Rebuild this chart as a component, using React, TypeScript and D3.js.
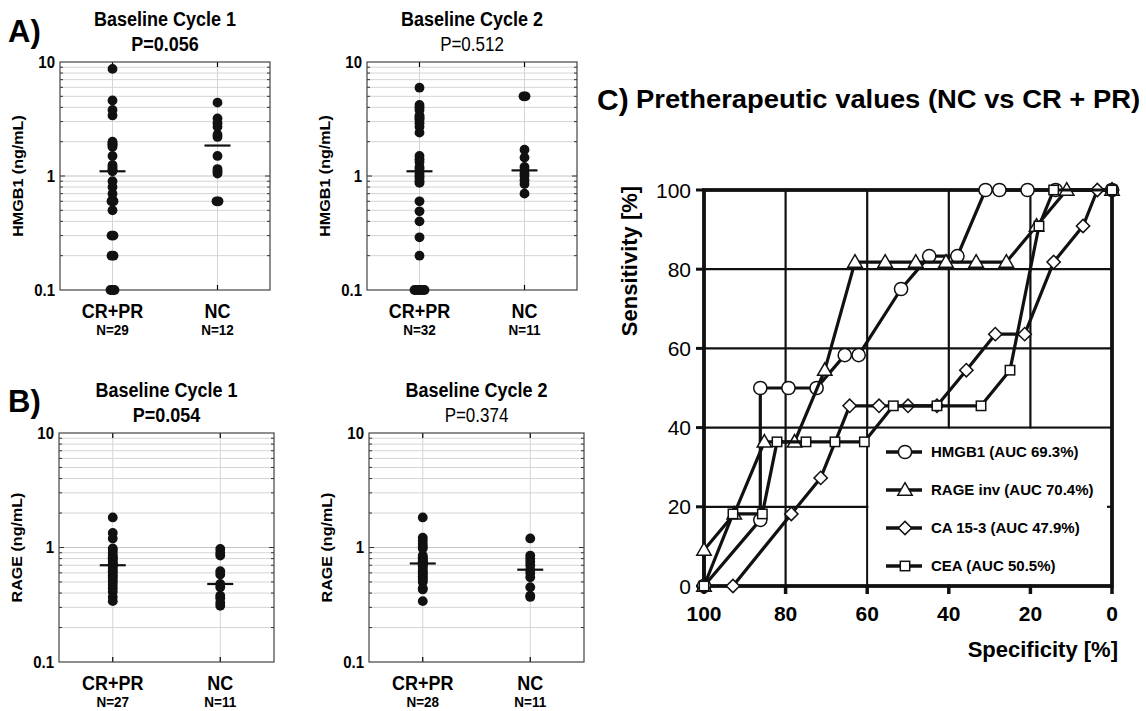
import React from 'react'
import * as d3 from 'd3'

// groups on the x axis of the scatter panels
const groups = ['CR+PR', 'NC']

// HMGB1 (ng/mL), baseline cycle 1 / cycle 2
const hmgbC1Resp = [8.7, 4.6, 3.8, 3.4, 2.0, 1.95, 1.9, 1.85, 1.8, 1.5, 1.25, 1.2, 1.15, 1.12, 1.1, 0.9, 0.8, 0.7, 0.62, 0.6, 0.6, 0.5, 0.3, 0.3, 0.2, 0.2, 0.1, 0.1, 0.1]
const hmgbC1NC = [4.4, 3.2, 2.9, 2.7, 2.3, 2.2, 1.5, 1.15, 1.1, 1.05, 0.6, 0.6]
const hmgbC2Resp = [5.95, 4.2, 4.0, 3.8, 3.4, 3.3, 3.2, 3.1, 2.9, 2.7, 2.4, 1.5, 1.4, 1.33, 1.2, 1.15, 1.05, 1.0, 0.96, 0.9, 0.87, 0.6, 0.49, 0.4, 0.29, 0.2, 0.1, 0.1, 0.1, 0.1, 0.1, 0.1]
const hmgbC2NC = [5.0, 5.0, 1.7, 1.45, 1.2, 1.12, 1.05, 1.0, 0.92, 0.85, 0.7]

// RAGE (ng/mL), baseline cycle 1 / cycle 2
const rageC1Resp = [1.83, 1.34, 1.2, 0.98, 0.95, 0.9, 0.85, 0.82, 0.8, 0.78, 0.75, 0.72, 0.71, 0.7, 0.68, 0.65, 0.62, 0.6, 0.57, 0.55, 0.52, 0.5, 0.47, 0.44, 0.41, 0.37, 0.34]
const rageC1NC = [0.97, 0.9, 0.85, 0.62, 0.58, 0.48, 0.45, 0.38, 0.36, 0.33, 0.31]
const rageC2Resp = [1.83, 1.22, 1.15, 1.08, 1.02, 0.98, 0.85, 0.82, 0.8, 0.78, 0.76, 0.75, 0.74, 0.73, 0.72, 0.7, 0.68, 0.65, 0.62, 0.6, 0.58, 0.56, 0.54, 0.52, 0.5, 0.44, 0.43, 0.34]
const rageC2NC = [1.2, 0.85, 0.8, 0.75, 0.7, 0.64, 0.6, 0.55, 0.45, 0.38, 0.37]

// ROC curves: [specificity %, sensitivity %]
const rocHmgb = [[100, 0], [86.2, 16.7], [86.2, 50], [79.3, 50], [72.4, 50], [65.5, 58.3], [62.1, 58.3], [51.7, 75], [44.8, 83.3], [37.9, 83.3], [31.0, 100], [27.6, 100], [20.7, 100], [13.8, 100], [0, 100]]
const rocRage = [[100, 0], [100, 9.1], [92.6, 18.2], [85.2, 36.4], [77.8, 36.4], [70.4, 54.5], [63.0, 81.8], [55.6, 81.8], [48.1, 81.8], [40.7, 81.8], [33.3, 81.8], [25.9, 81.8], [18.5, 90.9], [11.1, 100], [0, 100]]
const rocCa153 = [[92.9, 0], [78.6, 18.2], [71.4, 27.3], [64.3, 45.5], [57.1, 45.5], [50, 45.5], [42.9, 45.5], [35.7, 54.5], [28.6, 63.6], [21.4, 63.6], [14.3, 81.8], [7.1, 90.9], [3.6, 100], [0, 100]]
const rocCea = [[100, 0], [92.9, 18.2], [85.7, 18.2], [82.1, 36.4], [75, 36.4], [67.9, 36.4], [60.7, 36.4], [53.6, 45.5], [42.9, 45.5], [32.1, 45.5], [25, 54.5], [17.9, 90.9], [14.3, 100], [0, 100]]

const legendLabels = ['HMGB1 (AUC 69.3%)', 'RAGE inv (AUC 70.4%)', 'CA 15-3 (AUC 47.9%)', 'CEA (AUC 50.5%)']
const rocTicks = [0, 20, 40, 60, 80, 100]

const FONT = '"Liberation Sans", Arial, Helvetica, sans-serif'
// the left figures are a bit taller than wide
const STRETCH = 1.15

// horizontal offsets so that equal values sit side by side
const spread = (vals, step = 2) => {
  const count = d3.rollup(vals, v => v.length, d => d)
  const seen = new Map()
  return vals.map(v => {
    const k = seen.get(v) || 0
    seen.set(v, k + 1)
    return (k - (count.get(v) - 1) / 2) * step
  })
}

const T = ({ x, y, rot = 0, children, ...rest }) =>
  <g transform={`translate(${x},${y}) scale(1,${STRETCH})`}>
    <text transform={rot ? `rotate(${rot})` : undefined} {...rest}>{children}</text>
  </g>

const ScatterPanel = ({ box, title, pText, pBold, yLabel, series, nLabels }) => {
  const [x0, x1, y0, y1] = box
  const y = d3.scaleLog().domain([0.1, 10]).range([y1, y0])
  const x = d3.scalePoint().domain(groups).range([x0, x1]).padding(0.5)
  const minor = []
  ;[0.1, 1].forEach(dec => d3.range(2, 10).forEach(k => minor.push(dec * k)))
  const cx = (x0 + x1) / 2
  const cy = (y0 + y1) / 2

  return <g fontFamily={FONT}>
    {minor.map(v => <line key={'g' + v} x1={x0} x2={x1} y1={y(v)} y2={y(v)} stroke="#d4d4d4" strokeWidth={1} />)}
    <line x1={x0} x2={x1} y1={y(1)} y2={y(1)} stroke="#c4c4c4" strokeWidth={1} />
    {groups.map(g => <line key={'v' + g} x1={x(g)} x2={x(g)} y1={y0} y2={y1} stroke="#d4d4d4" strokeWidth={1} />)}
    {minor.map(v => <g key={'t' + v}>
      <line x1={x0} x2={x0 + 3} y1={y(v)} y2={y(v)} stroke="#333" />
      <line x1={x1 - 3} x2={x1} y1={y(v)} y2={y(v)} stroke="#333" />
    </g>)}
    <line x1={x0} x2={x0 + 5} y1={y(1)} y2={y(1)} stroke="#333" />
    <line x1={x1 - 5} x2={x1} y1={y(1)} y2={y(1)} stroke="#333" />
    {groups.map(g => <g key={'xt' + g}>
      <line x1={x(g)} x2={x(g)} y1={y0} y2={y0 + 5} stroke="#000" strokeWidth={1.2} />
      <line x1={x(g)} x2={x(g)} y1={y1} y2={y1 - 5} stroke="#000" strokeWidth={1.2} />
    </g>)}
    <rect x={x0} y={y0} width={x1 - x0} height={y1 - y0} fill="none" stroke="#444" strokeWidth={1.2} />

    {series.map((vals, i) => {
      const off = spread(vals)
      const med = d3.median(vals)
      const gx = x(groups[i])
      return <g key={'s' + i}>
        {vals.map((v, j) => <circle key={j} cx={gx + off[j]} cy={y(v)} r={4.9} fill="#111" />)}
        <line x1={gx - 13} x2={gx + 13} y1={y(med)} y2={y(med)} stroke="#111" strokeWidth={2.2} />
      </g>
    })}

    {[10, 1, 0.1].map(v => <T key={'yl' + v} x={x0 - 5} y={y(v) + 5.8} textAnchor="end" fontSize={15} fontWeight="bold">{v}</T>)}
    <T x={x0 - 37} y={cy} rot={-90} textAnchor="middle" fontSize={14} fontWeight="bold">{yLabel}</T>

    <T x={cx} y={y0 - 36} textAnchor="middle" fontSize={18} fontWeight="bold">{title}</T>
    <T x={cx} y={y0 - 11} textAnchor="middle" fontSize={pBold ? 18 : 17} fontWeight={pBold ? 'bold' : 'normal'}>{pText}</T>

    {groups.map((g, i) => <g key={'xl' + g}>
      <T x={x(g)} y={y1 + 28} textAnchor="middle" fontSize={18} fontWeight="bold">{g}</T>
      <T x={x(g)} y={y1 + 45} textAnchor="middle" fontSize={13.5} fontWeight="bold">{nLabels[i]}</T>
    </g>)}
  </g>
}

const xR = d3.scaleLinear().domain([100, 0]).range([704, 1112])
const yR = d3.scaleLinear().domain([0, 100]).range([586, 190])

const Marker = ({ kind, x, y }) => {
  const common = { fill: '#fff', stroke: '#111', strokeWidth: 1.5 }
  if (kind === 0) return <circle cx={x} cy={y} r={6.6} {...common} />
  if (kind === 1) return <path transform={`translate(${x},${y + 1})`} d={d3.symbol(d3.symbolTriangle, 90)()} {...common} />
  if (kind === 2) return <rect x={x - 4.7} y={y - 4.7} width={9.4} height={9.4} transform={`rotate(45 ${x} ${y})`} {...common} />
  return <rect x={x - 4.7} y={y - 4.7} width={9.4} height={9.4} {...common} />
}

const RocPanel = () => {
  const curves = [rocHmgb, rocRage, rocCa153, rocCea]
  const line = d3.line().x(d => xR(d[0])).y(d => yR(d[1]))
  const inner = [20, 40, 60, 80]
  const legX = xR(60)
  const legRows = d3.scalePoint().domain(d3.range(4)).range([452, 566])
  return <g fontFamily={FONT}>
    {inner.map(t => <g key={'g' + t}>
      <line x1={xR(t)} x2={xR(t)} y1={yR(0)} y2={yR(100)} stroke="#111" strokeWidth={2.2} />
      <line x1={xR(100)} x2={xR(0)} y1={yR(t)} y2={yR(t)} stroke="#111" strokeWidth={2.2} />
    </g>)}
    <rect x={legX + 1.2} y={yR(40) + 1.2} width={xR(0) - legX - 3} height={yR(0) - yR(40) - 3} fill="#fff" />
    <line x1={xR(0) - 5} x2={xR(0)} y1={yR(20)} y2={yR(20)} stroke="#111" strokeWidth={2.2} />

    {rocTicks.map(t => <g key={'t' + t}>
      <line x1={xR(100) - 8} x2={xR(100)} y1={yR(t)} y2={yR(t)} stroke="#111" strokeWidth={3} />
      <line x1={xR(t)} x2={xR(t)} y1={yR(0)} y2={yR(0) + 8} stroke="#111" strokeWidth={3.5} />
      <text x={691} y={yR(t)} dy="0.36em" textAnchor="end" fontSize={21}>{t}</text>
      <text x={xR(t)} y={621} textAnchor="middle" fontSize={21} fontWeight="bold">{t}</text>
    </g>)}
    <rect x={xR(100)} y={yR(100)} width={xR(0) - xR(100)} height={yR(0) - yR(100)} fill="none" stroke="#111" strokeWidth={3.8} />

    {curves.map((c, i) => <g key={'c' + i}>
      <path d={line(c)} fill="none" stroke="#111" strokeWidth={3.2} strokeLinejoin="round" />
      {c.map((d, j) => <Marker key={j} kind={i} x={xR(d[0])} y={yR(d[1])} />)}
    </g>)}

    {legendLabels.map((l, i) => <g key={'l' + i}>
      <line x1={886} x2={922} y1={legRows(i)} y2={legRows(i)} stroke="#111" strokeWidth={3.5} />
      <Marker kind={i} x={905} y={legRows(i)} />
      <text x={931} y={legRows(i)} dy="0.36em" fontSize={15} fontWeight="bold">{l}</text>
    </g>)}

    <text transform={`translate(637,261) rotate(-90)`} textAnchor="middle" fontSize={22} fontWeight="bold">Sensitivity [%]</text>
    <text x={1118} y={657} textAnchor="end" fontSize={22} fontWeight="bold">Specificity [%]</text>
    <text x={597} y={110} fontSize={30} fontWeight="bold">C)</text>
    <text x={636} y={108} fontSize={25} fontWeight="bold" textLength={504} lengthAdjust="spacingAndGlyphs">Pretherapeutic values (NC vs CR + PR)</text>
  </g>
}

export default function App() {
  return <svg width={1146} height={711} style={{ position: 'absolute', left: 0, top: 0, background: '#fff' }}>
    <rect width={1146} height={711} fill="#fff" />
    <text x={8} y={42} fontFamily={FONT} fontSize={31} fontWeight="bold">A)</text>
    <text x={8} y={412} fontFamily={FONT} fontSize={31} fontWeight="bold">B)</text>
    <ScatterPanel box={[60, 270, 62, 290]} title="Baseline Cycle 1" pText="P=0.056" pBold yLabel="HMGB1 (ng/mL)" series={[hmgbC1Resp, hmgbC1NC]} nLabels={['N=29', 'N=12']} />
    <ScatterPanel box={[367, 577, 62, 290]} title="Baseline Cycle 2" pText="P=0.512" pBold={false} yLabel="HMGB1 (ng/mL)" series={[hmgbC2Resp, hmgbC2NC]} nLabels={['N=32', 'N=11']} />
    <ScatterPanel box={[59, 274, 433, 662]} title="Baseline Cycle 1" pText="P=0.054" pBold yLabel="RAGE (ng/mL)" series={[rageC1Resp, rageC1NC]} nLabels={['N=27', 'N=11']} />
    <ScatterPanel box={[369, 584, 433, 662]} title="Baseline Cycle 2" pText="P=0.374" pBold={false} yLabel="RAGE (ng/mL)" series={[rageC2Resp, rageC2NC]} nLabels={['N=28', 'N=11']} />
    <RocPanel />
  </svg>
}
